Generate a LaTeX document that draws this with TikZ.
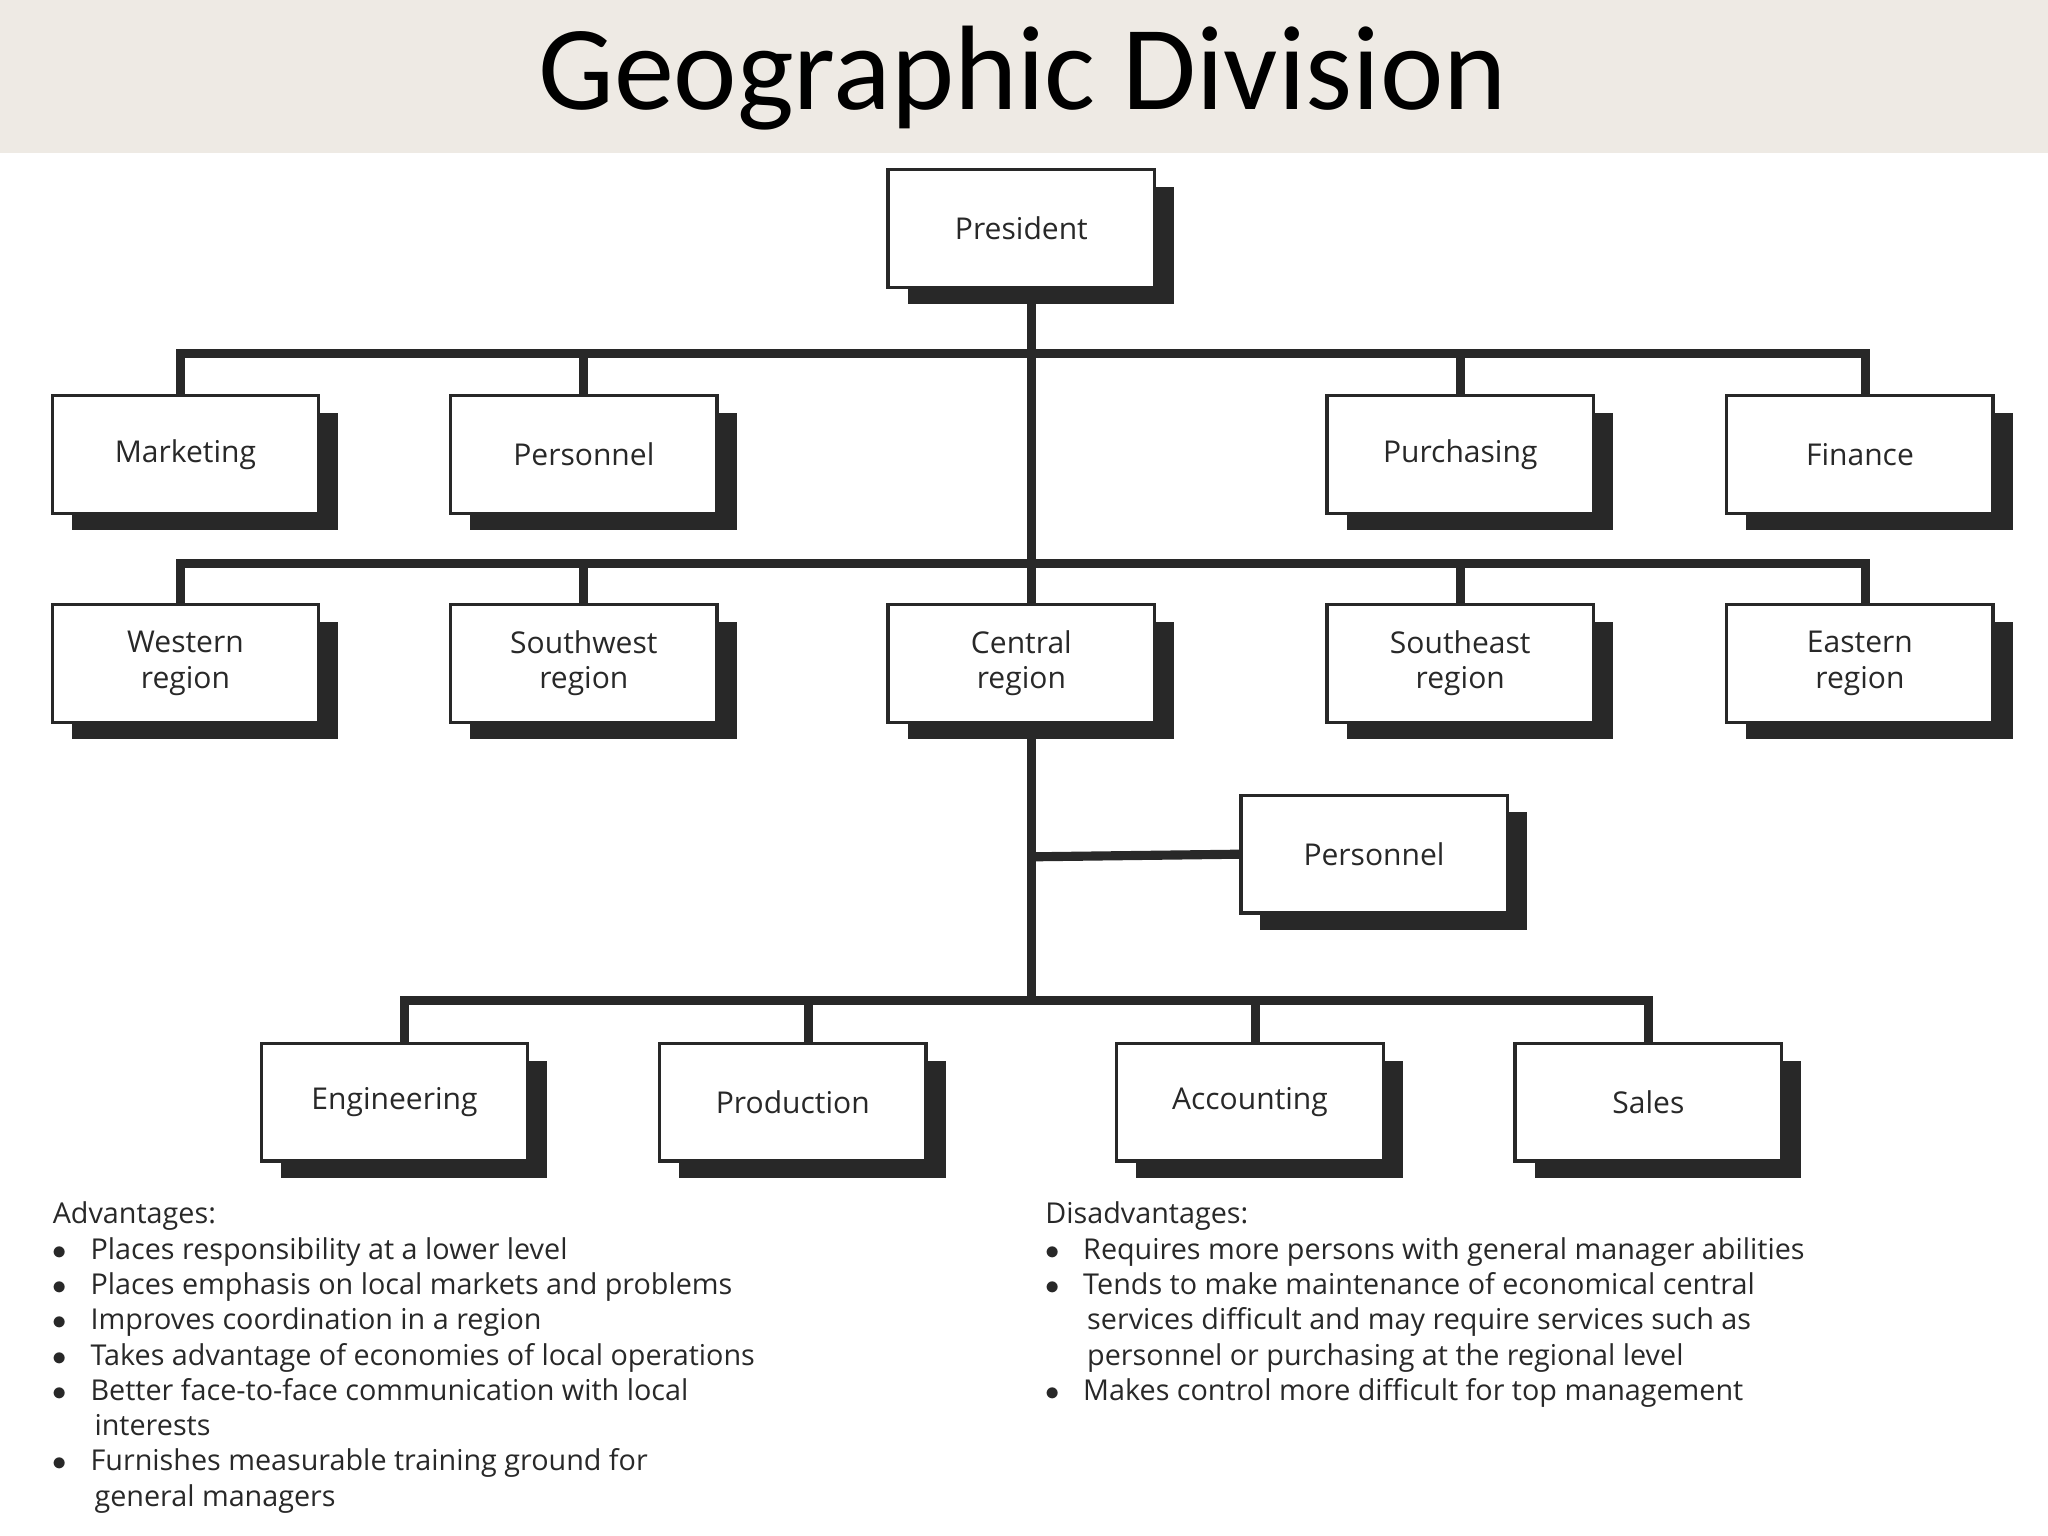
\documentclass[tikz,border=0pt]{standalone}
\usepackage{fontspec}
\setmainfont{Open Sans}
\newfontfamily\titlefont{Carlito}
\usetikzlibrary{shadows}
\definecolor{ink}{RGB}{40,40,40}
\definecolor{bar}{RGB}{238,234,228}
\tikzset{
  box/.style={draw=ink, line width=1.3pt, fill=white, minimum width=102pt, minimum height=45pt,
    align=center, font=\fontsize{11.5}{13.5}\selectfont, text=ink,
    general shadow={fill=ink, shadow xshift=7.5pt, shadow yshift=-6.5pt}},
  conn/.style={draw=ink, line width=3.5pt},
  lst/.style={anchor=north west, align=left, text=ink, font=\fontsize{11}{13.5}\selectfont, inner sep=0pt}
}
\begin{document}
\begin{tikzpicture}[x=0.5pt,y=-0.5pt]
\useasboundingbox (0,0) rectangle (1568,1176);
\fill[bar] (0,0) rectangle (1568,117);
\node[font=\titlefont\fontsize{46}{50}\selectfont] (title) at (783,60) {Geographic Division};
% nodes
\node[box] (pres) at (782,175) {President};
\node[box] (mkt) at (142,348) {Marketing};
\node[box] (pers) at (447,348) {Personnel};
\node[box] (pur) at (1118,348) {Purchasing};
\node[box] (fin) at (1424,348) {Finance};
\node[box] (west) at (142,508) {Western\\region};
\node[box] (sw) at (447,508) {Southwest\\region};
\node[box] (cen) at (782,508) {Central\\region};
\node[box] (se) at (1118,508) {Southeast\\region};
\node[box] (east) at (1424,508) {Eastern\\region};
\node[box] (pers2) at (1052,654) {Personnel};
\node[box] (eng) at (302,844) {Engineering};
\node[box] (prod) at (607,844) {Production};
\node[box] (acc) at (957,844) {Accounting};
\node[box] (sal) at (1262,844) {Sales};
% connectors
\begin{scope}[on background layer/.style={}]
\coordinate (b1) at (790,272);
\coordinate (b2) at (790,433);
\coordinate (b3) at (790,768);
\coordinate (b4) at (790,656);
\draw[conn] (pres.south -| b1) -- (cen.north -| b1);
\draw[conn] ([xshift=-2pt]mkt.north) -- ++(0,-31) -| ([xshift=2pt]fin.north);
\draw[conn] (pers.north) -- (pers.north |- b1);
\draw[conn] (pur.north) -- (pur.north |- b1);
\draw[conn] ([xshift=-2pt]west.north) -- ++(0,-30) -| ([xshift=2pt]east.north);
\draw[conn] (sw.north) -- (sw.north |- b2);
\draw[conn] (se.north) -- (se.north |- b2);
\draw[conn] (cen.south -| b3) -- (b3);
\draw[conn] (b4) -- (pers2.west);
\draw[conn] ([xshift=4pt]eng.north) -- ++(0,-32) -| (sal.north);
\draw[conn] ([xshift=6pt]prod.north) -- ([xshift=6pt]prod.north |- b3);
\draw[conn] ([xshift=2pt]acc.north) -- ([xshift=2pt]acc.north |- b3);
\end{scope}
% lists
\node[lst] (adv) at (40,920) {Advantages:\\
$\bullet$\hspace{9pt}Places responsibility at a lower level\\
$\bullet$\hspace{9pt}Places emphasis on local markets and problems\\
$\bullet$\hspace{9pt}Improves coordination in a region\\
$\bullet$\hspace{9pt}Takes advantage of economies of local operations\\
$\bullet$\hspace{9pt}Better face-to-face communication with local\\
\hspace{16pt}interests\\
$\bullet$\hspace{9pt}Furnishes measurable training ground for\\
\hspace{16pt}general managers};
\node[lst] (dis) at (800,920) {Disadvantages:\\
$\bullet$\hspace{9pt}Requires more persons with general manager abilities\\
$\bullet$\hspace{9pt}Tends to make maintenance of economical central\\
\hspace{16pt}services difficult and may require services such as\\
\hspace{16pt}personnel or purchasing at the regional level\\
$\bullet$\hspace{9pt}Makes control more difficult for top management};
\end{tikzpicture}
\end{document}
